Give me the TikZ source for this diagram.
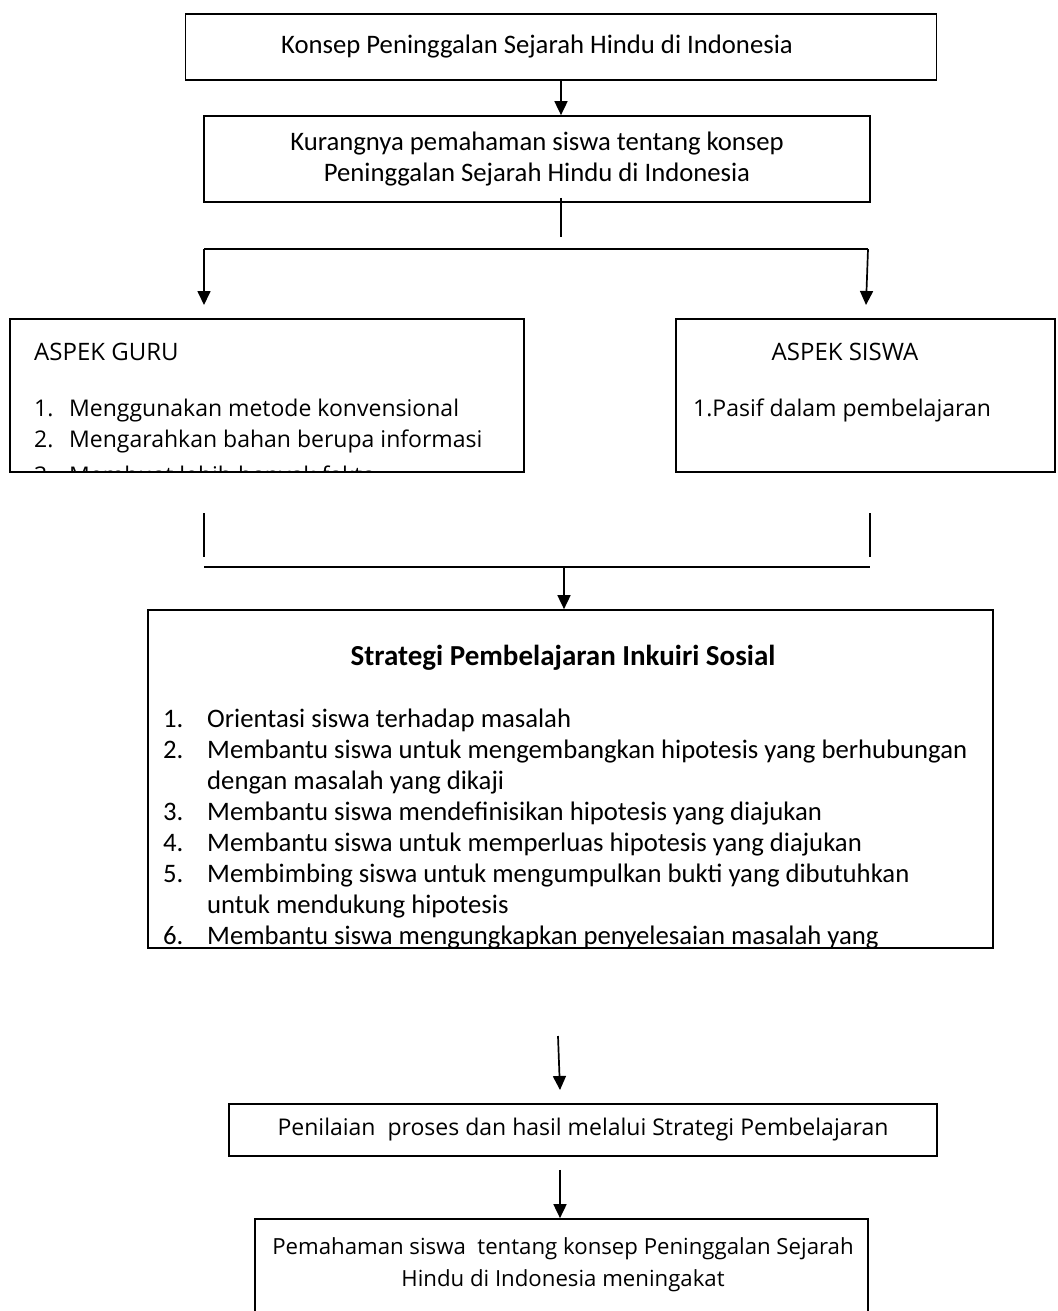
\documentclass[tikz,border=0pt]{standalone}
\usepackage{fontspec}
\setmainfont{Carlito}
\newfontfamily\opensans{Open Sans}
\usetikzlibrary{arrows.meta}

\tikzset{
  box/.style={draw, line width=1.7pt, inner sep=0pt, align=center},
  item/.style={anchor=base west, inner sep=0pt},
  calib/.style={font=\fontsize{26.7}{31}\selectfont},
  opens/.style={font=\opensans\fontsize{23}{32}\selectfont},
  link/.style={line width=1.7pt, -{Triangle[length=14pt,width=13pt]}},
  bar/.style={line width=1.7pt},
  thinbar/.style={line width=1.2pt}
}

\begin{document}
\begin{tikzpicture}[x=1pt, y=-1pt, calib]
  \useasboundingbox (0,0) rectangle (1057,1311);

  % masalah
  \node[box, minimum width=751pt, minimum height=66pt] (konsep) at (561,47) {};
  \node[inner sep=0pt] (konseptext) at (537,47) {Konsep Peninggalan Sejarah Hindu di Indonesia};
  \node[box, minimum width=666pt, minimum height=86pt] (kurang) at (537,159) {Kurangnya pemahaman siswa tentang konsep\\Peninggalan Sejarah Hindu di Indonesia};
  \draw[link] (konsep.south) -- (konsep.south |- kurang.north);

  % cabang ke dua aspek
  \coordinate (split) at (561,237);
  \coordinate (forkL) at (204,249);
  \coordinate (forkR) at (868,249);
  \coordinate (guruin) at (204,305);
  \coordinate (siswain) at (866,305);
  \draw[thinbar] (kurang.south -| split) ++(0,-5) -- (split);
  \draw[bar] (forkL) -- (forkR);
  \draw[link] (forkL) -- (guruin);
  \draw[link] (forkR) -- (siswain);

  \node[box, minimum width=514pt, minimum height=153pt] (guru) at (267,395.5) {};
  \node[box, minimum width=379pt, minimum height=153pt] (siswa) at (865.5,395.5) {};

  \node[item, font=\opensans\fontsize{24}{32}\selectfont] (guruhead) at (34,360) {ASPEK GURU};
  \begin{scope}
    \clip (guru.north west) rectangle (guru.south east);
    \node[item, opens] (g1n) at (34,416) {1.};
    \node[item, opens] (g1) at (69,416) {Menggunakan metode konvensional};
    \node[item, opens] (g2n) at (34,447) {2.};
    \node[item, opens] (g2) at (69,447) {Mengarahkan bahan berupa informasi};
    \node[item, opens] (g3n) at (34,483) {3.};
    \node[item, opens] (g3) at (69,483) {Membuat lebih banyak fakta};
  \end{scope}

  \node[anchor=base, inner sep=0pt, font=\opensans\fontsize{24}{32}\selectfont] (siswahead) at (845,360) {ASPEK SISWA};
  \node[item, opens] (s1) at (693,416) {1.Pasif dalam pembelajaran};

  % gabung ke strategi
  \coordinate (gurudown) at (204,513);
  \coordinate (siswadown) at (870,513);
  \coordinate (joinL) at (204,567);
  \coordinate (joinR) at (870,567);
  \coordinate (joinM) at (564,567);
  \draw[thinbar] (gurudown) -- ++(0,44);
  \draw[thinbar] (siswadown) -- ++(0,44);
  \draw[bar] (joinL) -- (joinR);

  \node[box, minimum width=845pt, minimum height=338pt] (strategi) at (570.5,779) {};
  \draw[link] (joinM) -- (joinM |- strategi.north);

  \node[anchor=base, inner sep=0pt, font=\fontsize{29}{31}\selectfont] (strathead) at (563,665) {\bfseries Strategi Pembelajaran Inkuiri Sosial};
  \begin{scope}
    \clip (strategi.north west) rectangle (strategi.south east);
    \node[item] (st1n) at (163,727) {1.};
    \node[item] (st1) at (207,727) {Orientasi siswa terhadap masalah};
    \node[item] (st2n) at (163,758) {2.};
    \node[item] (st2) at (207,758) {Membantu siswa untuk mengembangkan hipotesis yang berhubungan};
    \node[item] (st2b) at (207,789) {dengan masalah yang dikaji};
    \node[item] (st3n) at (163,820) {3.};
    \node[item] (st3) at (207,820) {Membantu siswa mendefinisikan hipotesis yang diajukan};
    \node[item] (st4n) at (163,851) {4.};
    \node[item] (st4) at (207,851) {Membantu siswa untuk memperluas hipotesis yang diajukan};
    \node[item] (st5n) at (163,882) {5.};
    \node[item] (st5) at (207,882) {Membimbing siswa untuk mengumpulkan bukti yang dibutuhkan};
    \node[item] (st5b) at (207,913) {untuk mendukung hipotesis};
    \node[item] (st6n) at (163,944) {6.};
    \node[item] (st6) at (207,944) {Membantu siswa mengungkapkan penyelesaian masalah yang};
  \end{scope}

  % hasil
  \coordinate (lower) at (558,1036);
  \coordinate (lowertip) at (560,1090);
  \draw[link] (lower) -- (lowertip);
  \node[box, opens, minimum width=708pt, minimum height=52pt] (nilai) at (583,1130) {Penilaian\ \ proses dan hasil melalui Strategi Pembelajaran};

  \node[box, minimum width=613pt, minimum height=100pt] (paham) at (561.5,1269) {};
  \node[align=center, inner sep=0pt, font=\opensans\fontsize{22.2}{32}\selectfont] (pahamtext) at (563,1265) {Pemahaman siswa\ \ tentang konsep Peninggalan Sejarah\\Hindu di Indonesia meningakat};
  \draw[link] (nilai.south -| lowertip) ++(0,13) -- (paham.north -| lowertip);
\end{tikzpicture}
\end{document}
